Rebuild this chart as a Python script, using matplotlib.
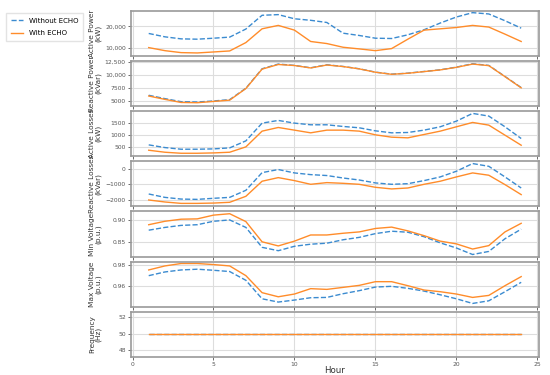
import matplotlib
matplotlib.use("Agg")
import matplotlib.pyplot as plt
import numpy as np

hours = list(range(1, 25))

p_without = [16770, 15230, 14300, 14150, 14600, 15100, 18800, 25100, 25400, 23500, 22800, 21800,
             16900, 15850, 14600, 14460, 16150, 18460, 21540, 24300, 26300, 25700, 22600, 19200]
p_with = [10300, 8900, 8000, 7850, 8300, 8770, 12600, 18900, 20460, 18300, 13100, 12150,
          10460, 9700, 8900, 9850, 14150, 18300, 18900, 19500, 20460, 19700, 16460, 13100]

q_without = [6040, 5390, 4800, 4740, 4935, 5200, 7400, 11170, 12080, 11820, 11360, 11950,
             11620, 11170, 10520, 10130, 10320, 10650, 10970, 11490, 12140, 11820, 9680, 7530]
q_with = [5900, 5250, 4650, 4600, 4850, 5100, 7350, 11100, 12000, 11800, 11330, 11900,
          11600, 11150, 10500, 10100, 10300, 10620, 10950, 11450, 12080, 11780, 9650, 7480]

pl_without = [596, 486, 418, 418, 432, 473, 760, 1486, 1596, 1486, 1418, 1418,
              1350, 1295, 1171, 1089, 1103, 1199, 1336, 1568, 1884, 1774, 1336, 856]
pl_with = [377, 295, 253, 253, 267, 295, 514, 1158, 1308, 1199, 1089, 1199,
           1199, 1158, 1007, 911, 884, 1021, 1158, 1336, 1514, 1404, 993, 582]

ql_without = [-1630, -1850, -1960, -1980, -1910, -1850, -1390, -240, -40, -260, -370, -430,
              -590, -720, -910, -1000, -960, -760, -520, -150, 350, 170, -520, -1240]
ql_with = [-2020, -2150, -2240, -2240, -2220, -2170, -1780, -800, -565, -760, -1000, -890,
           -935, -1000, -1195, -1300, -1240, -1000, -800, -520, -260, -410, -1020, -1670]

vmin_without = [0.8765, 0.8826, 0.8871, 0.8886, 0.8962, 0.8992, 0.8826, 0.8386, 0.8311, 0.8409, 0.8455, 0.8477,
                0.8553, 0.8606, 0.8689, 0.8742, 0.8720, 0.8621, 0.8485, 0.8371, 0.8227, 0.8295, 0.8576, 0.8788]
vmin_with = [0.8886, 0.8962, 0.9008, 0.9015, 0.9098, 0.9129, 0.8955, 0.8508, 0.8417, 0.8523, 0.8659, 0.8659,
             0.8697, 0.8727, 0.8803, 0.8833, 0.8750, 0.8644, 0.8523, 0.8462, 0.8348, 0.8424, 0.8727, 0.8917]

vmax_without = [0.9698, 0.9733, 0.9752, 0.9759, 0.9749, 0.9737, 0.9654, 0.9479, 0.9448, 0.9467, 0.9489, 0.9492,
                0.9527, 0.9556, 0.9590, 0.9597, 0.9578, 0.9552, 0.9517, 0.9479, 0.9435, 0.9460, 0.9546, 0.9635]
vmax_with = [0.9752, 0.9790, 0.9813, 0.9813, 0.9803, 0.9790, 0.9698, 0.9537, 0.9498, 0.9524, 0.9575, 0.9568,
             0.9587, 0.9606, 0.9641, 0.9641, 0.9603, 0.9562, 0.9546, 0.9524, 0.9492, 0.9511, 0.9603, 0.9689]

f_without = [50.0] * 24
f_with = [50.0] * 24

ylabels = ["Active Power\n(kW)", "Reactive Power\n(kVar)", "Active Losses\n(kW)",
           "Reactive Losses\n(kVar)", "Min Voltage\n(p.u.)", "Max Voltage\n(p.u.)", "Frequency\n(Hz)"]
yticks = [[10000, 20000], [5000, 7500, 10000, 12500], [500, 1000, 1500], [-2000, -1000, 0],
          [0.85, 0.90], [0.96, 0.98], [48, 50, 52]]
yticklabels = [["10,000", "20,000"], ["5000", "7500", "10,000", "12,500"], ["500", "1000", "1500"],
               ["\u22122000", "\u22121000", "0"], ["0.85", "0.90"], ["0.96", "0.98"], ["48", "50", "52"]]
ylims = [(6500, 27200), (3950, 12700), (130, 1980), (-2440, 500), (0.818, 0.918), (0.9403, 0.9831), (47.2, 52.64)]
xticks = [0, 5, 10, 15, 20, 25]

series = [(p_without, p_with), (q_without, q_with), (pl_without, pl_with), (ql_without, ql_with),
          (vmin_without, vmin_with), (vmax_without, vmax_with), (f_without, f_with)]

blue = "#3b8bd0"
orange = "#ff8c2a"

fig, axes = plt.subplots(7, 1, figsize=(5.5, 3.75), dpi=100, sharex=True)
fig.subplots_adjust(left=0.238, right=0.98, top=0.9715, bottom=0.048, hspace=0.11)

for i, ax in enumerate(axes):
    wo, wi = series[i]
    l1, = ax.plot(hours, wo, linestyle="--", color=blue, linewidth=1.0, label="Without ECHO")
    l2, = ax.plot(hours, wi, linestyle="-", color=orange, linewidth=1.0, label="With ECHO")
    ax.set_ylim(*ylims[i])
    ax.set_yticks(yticks[i])
    ax.set_yticklabels(yticklabels[i])
    ax.set_ylabel(ylabels[i], fontsize=5.3, color="#333333", linespacing=1.0)
    ax.yaxis.set_label_coords(-0.072, 0.5)
    ax.grid(True, color="#dddddd", linewidth=0.8)
    ax.set_axisbelow(True)
    for s in ax.spines.values():
        s.set_color("#999999")
        s.set_linewidth(1.2)
    ax.tick_params(axis="both", labelsize=4.3, colors="#555555", length=2.5, width=0.6, pad=1.2)
    ax.tick_params(axis="x", labelbottom=(i == 6))

axes[-1].set_xlim(-0.1, 25.1)
axes[-1].set_xticks(xticks)
axes[-1].set_xticklabels([str(t) for t in xticks])
axes[-1].set_xlabel("Hour", fontsize=6.2, color="#333333", labelpad=-1)

fig.legend(handles=[l1, l2], loc="upper left", bbox_to_anchor=(0.004, 0.975), fontsize=5,
           frameon=True, edgecolor="#dddddd", fancybox=False, handlelength=1.8, borderpad=0.7,
           labelspacing=0.9, handletextpad=0.8)

fig.savefig("out.png", dpi=100)
